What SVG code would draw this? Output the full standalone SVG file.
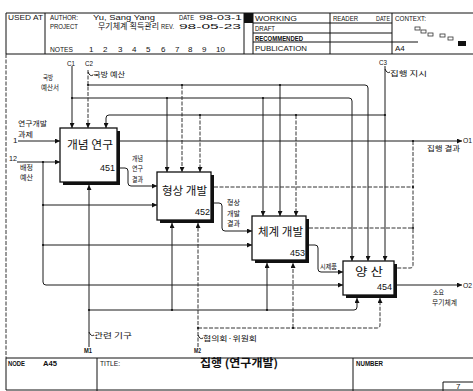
<svg xmlns="http://www.w3.org/2000/svg" width="473" height="391" viewBox="0 0 473 391">
<style>
.fr{stroke:#111;fill:none;stroke-width:1}
.ln{stroke:#1a1a1a;fill:none;stroke-width:1}
.dl{stroke:#333;fill:none;stroke-width:1;stroke-dasharray:4 1.5}
.t{font-family:"Liberation Sans","Noto Sans CJK KR",sans-serif;font-size:8px;fill:#111}
.k{font-family:"Noto Sans CJK KR","Liberation Sans",sans-serif;font-size:7px;fill:#111}
.bt{font-family:"Noto Sans CJK KR","Liberation Sans",sans-serif;font-size:11px;fill:#111}
.bn{font-family:"Liberation Sans",sans-serif;font-size:9px;fill:#111;text-anchor:end}
.box{fill:#fff;stroke:#111;stroke-width:1.3}
.sh{fill:#111}
.j{fill:#111}
</style>
<defs>
<marker id="ah" viewBox="0 0 6 6" refX="6" refY="3" markerWidth="5" markerHeight="5" orient="auto" markerUnits="userSpaceOnUse"><path d="M0,0 L6,3 L0,6 z" fill="#111"/></marker>
</defs>
<rect width="473" height="391" fill="#fff"/>

<g id="frame">
<path class="fr" stroke-width="1.5" d="M6,13 H473"/>
<path class="fr" d="M6,13 V54"/>
<path class="dl" d="M6,54 V358"/>
<path class="fr" d="M6,358 V390"/>
<path class="fr" d="M45,13 V54 M244,13 V54 M253,13 V54 M330,13 V54 M392,13 V54"/>
<path class="fr" d="M253,23 H392 M253,33 H392 M253,42 H392 M392,42 H418"/>
<path class="fr" stroke-width="1.5" d="M6,54 H473"/>
<rect x="244" y="13" width="9" height="10" fill="#111"/>
<path class="fr" stroke-width="1.3" d="M6,358 H473"/>
<path class="fr" d="M97,358 V391 M353,358 V391 M6,390 H473"/>
<path class="fr" d="M443,391 V382 H473"/>
<text class="t" x="8" y="20" textLength="35" lengthAdjust="spacingAndGlyphs">USED AT</text>
<text class="t" x="50" y="20" textLength="28" lengthAdjust="spacingAndGlyphs">AUTHOR:</text>
<text class="t" x="93" y="20" textLength="62" lengthAdjust="spacingAndGlyphs">Yu, Sang Yang</text>
<text class="t" x="179" y="20" textLength="15" lengthAdjust="spacingAndGlyphs">DATE</text>
<text class="t" x="199" y="20" textLength="43" lengthAdjust="spacingAndGlyphs">98-03-1</text>
<text class="t" x="50" y="29" textLength="28" lengthAdjust="spacingAndGlyphs">PROJECT</text>
<text class="t" x="98" y="29" textLength="61" lengthAdjust="spacingAndGlyphs">무기체계 획득관리</text>
<text class="t" x="161" y="29" textLength="13" lengthAdjust="spacingAndGlyphs">REV.</text>
<text class="t" x="179" y="29" textLength="62" lengthAdjust="spacingAndGlyphs">98-05-23</text>
<text class="t" x="50" y="52" textLength="23" lengthAdjust="spacingAndGlyphs">NOTES</text>
<text class="t" x="89" y="52">1</text><text class="t" x="103" y="52">2</text><text class="t" x="118" y="52">3</text><text class="t" x="132" y="52">4</text><text class="t" x="146" y="52">5</text><text class="t" x="161" y="52">6</text><text class="t" x="175" y="52">7</text><text class="t" x="188" y="52">8</text><text class="t" x="202" y="52">9</text><text class="t" x="216" y="52">10</text>
<text class="t" x="255" y="21" textLength="42" lengthAdjust="spacingAndGlyphs">WORKING</text>
<text class="t" x="255" y="31" textLength="20" lengthAdjust="spacingAndGlyphs">DRAFT</text>
<text class="t" x="255" y="41" textLength="48" lengthAdjust="spacingAndGlyphs" font-weight="bold">RECOMMENDED</text>
<text class="t" x="255" y="51" textLength="52" lengthAdjust="spacingAndGlyphs">PUBLICATION</text>
<text class="t" x="333" y="21" textLength="25" lengthAdjust="spacingAndGlyphs">READER</text>
<text class="t" x="376" y="21" textLength="14" lengthAdjust="spacingAndGlyphs">DATE</text>
<text class="t" x="395" y="21" textLength="31" lengthAdjust="spacingAndGlyphs">CONTEXT:</text>
<text class="t" x="395" y="51">A4</text>
<g fill="none" stroke="#333" stroke-width="0.8">
<rect x="415" y="27" width="5" height="3"/><rect x="421" y="30" width="5" height="3"/><rect x="428" y="33" width="5" height="3"/><rect x="440" y="34" width="5" height="3"/><rect x="448" y="37" width="5" height="3"/>
</g>
<rect x="458" y="41" width="8" height="5" fill="#111"/>
<text class="t" x="8" y="366" textLength="17" lengthAdjust="spacingAndGlyphs" font-weight="bold">NODE</text>
<text class="t" x="43" y="366" textLength="14" lengthAdjust="spacingAndGlyphs" font-weight="bold">A45</text>
<text class="t" x="100" y="366" textLength="20" lengthAdjust="spacingAndGlyphs">TITLE:</text>
<text class="bt" x="200" y="367" textLength="78" lengthAdjust="spacingAndGlyphs" font-weight="bold">집행 (연구개발)</text>
<text class="t" x="356" y="366" textLength="27" lengthAdjust="spacingAndGlyphs" font-weight="bold">NUMBER</text>
<text class="t" x="456" y="389" font-size="9">7</text>
</g>

<g id="connectors">
<path class="ln" marker-end="url(#ah)" d="M72,66 V128"/>
<path class="ln" marker-end="url(#ah)" d="M72,98 H349 Q352,98 352,101 V261"/>
<path class="ln" marker-end="url(#ah)" d="M167,98 V172"/>
<path class="ln" marker-end="url(#ah)" d="M263,98 V216"/>
<path class="dl" marker-end="url(#ah)" d="M88,70 V128"/>
<path class="ln" marker-end="url(#ah)" d="M88,85 H365 Q368,85 368,88 V261"/>
<path class="dl" marker-end="url(#ah)" d="M182,85 V172"/>
<path class="ln" marker-end="url(#ah)" d="M280,85 V216"/>
<path class="ln" marker-end="url(#ah)" d="M385,66 V261"/>
<path class="ln" marker-end="url(#ah)" d="M385,115 H109 Q106,115 106,118 V128"/>
<path class="dl" marker-end="url(#ah)" d="M200,115 V172"/>
<path class="dl" marker-end="url(#ah)" d="M296,115 V216"/>
<path class="ln" marker-end="url(#ah)" d="M18,141 H60"/>
<path class="ln" marker-end="url(#ah)" d="M17,162 H60"/>
<path class="ln" marker-end="url(#ah)" d="M43,162 V282 Q43,285 46,285 H343"/>
<path class="ln" marker-end="url(#ah)" d="M43,205 H157"/>
<path class="ln" marker-end="url(#ah)" d="M43,245 H252"/>
<path class="ln" marker-end="url(#ah)" d="M120,141 H462"/>
<path class="dl" d="M413,141 V265 Q413,268 410,268 H397"/>
<path class="dl" d="M214,187 H413"/>
<path class="dl" d="M309,228 H413"/>
<path class="ln" marker-end="url(#ah)" d="M120,168 H125 Q128,168 128,171 V183 Q128,186 131,186 H157"/>
<path class="ln" marker-end="url(#ah)" d="M214,203 H219 Q222,203 222,206 V228 Q222,231 225,231 H252"/>
<path class="ln" marker-end="url(#ah)" d="M309,245 H315 Q318,245 318,248 V269 Q318,272 321,272 H343"/>
<path class="ln" marker-end="url(#ah)" d="M397,285 H462"/>
<path class="ln" marker-end="url(#ah)" d="M89,347 V185"/>
<path class="ln" marker-end="url(#ah)" d="M89,310 H354 Q357,310 357,307 V298"/>
<path class="ln" marker-end="url(#ah)" d="M172,310 V223"/>
<path class="ln" marker-end="url(#ah)" d="M267,310 V263"/>
<path class="dl" marker-end="url(#ah)" d="M198,347 V223"/>
<path class="dl" marker-end="url(#ah)" d="M198,328 H377 Q380,328 380,325 V298"/>
<path class="dl" marker-end="url(#ah)" d="M293,328 V263"/>
<path class="ln" stroke-width="0.8" d="M88,72 Q90,77 93,75 M385,69 Q387,74 390,72 M89,332 Q91,337 94,335 M198,335 Q200,340 203,338"/>
<g class="j">
<circle cx="72" cy="98" r="1.1"/><circle cx="88" cy="85" r="1.1"/><circle cx="385" cy="115" r="1.1"/>
<circle cx="167" cy="98" r="1.1"/><circle cx="263" cy="98" r="1.1"/><circle cx="182" cy="85" r="1.1"/><circle cx="280" cy="85" r="1.1"/>
<circle cx="200" cy="115" r="1.1"/><circle cx="296" cy="115" r="1.1"/>
<circle cx="43" cy="162" r="1.1"/><circle cx="43" cy="205" r="1.1"/><circle cx="43" cy="245" r="1.1"/>
<circle cx="413" cy="141" r="1.1"/><circle cx="413" cy="187" r="1.1"/><circle cx="413" cy="228" r="1.1"/>
<circle cx="89" cy="310" r="1.1"/><circle cx="172" cy="310" r="1.1"/><circle cx="267" cy="310" r="1.1"/>
<circle cx="198" cy="328" r="1.1"/><circle cx="293" cy="328" r="1.1"/>
</g>
<text class="t" x="67" y="66" textLength="8" lengthAdjust="spacingAndGlyphs">C1</text>
<text class="t" x="85" y="66" textLength="8" lengthAdjust="spacingAndGlyphs">C2</text>
<text class="t" x="379" y="65" textLength="8" lengthAdjust="spacingAndGlyphs">C3</text>
<text class="k" x="43" y="80" textLength="10" lengthAdjust="spacingAndGlyphs">국방</text>
<text class="k" x="41" y="90" textLength="18" lengthAdjust="spacingAndGlyphs">예산서</text>
<text class="k" x="93" y="77" textLength="32" lengthAdjust="spacingAndGlyphs">국방 예산</text>
<text class="k" x="390" y="76" textLength="37" lengthAdjust="spacingAndGlyphs">집행 지시</text>
<text class="k" x="18" y="126" textLength="29" lengthAdjust="spacingAndGlyphs">연구개발</text>
<text class="k" x="18" y="137" textLength="15" lengthAdjust="spacingAndGlyphs">과제</text>
<text class="t" x="13" y="143">1</text>
<text class="t" x="9" y="161" textLength="8" lengthAdjust="spacingAndGlyphs">12</text>
<text class="k" x="20" y="170" textLength="13" lengthAdjust="spacingAndGlyphs">배정</text>
<text class="k" x="20" y="180" textLength="13" lengthAdjust="spacingAndGlyphs">예산</text>
<text class="k" x="132" y="161" textLength="11" lengthAdjust="spacingAndGlyphs">개념</text>
<text class="k" x="132" y="171" textLength="11" lengthAdjust="spacingAndGlyphs">연구</text>
<text class="k" x="132" y="182" textLength="11" lengthAdjust="spacingAndGlyphs">결과</text>
<text class="k" x="427" y="151" textLength="33" lengthAdjust="spacingAndGlyphs">집행 결과</text>
<text class="t" x="463" y="143" textLength="9" lengthAdjust="spacingAndGlyphs">O1</text>
<text class="k" x="227" y="205" textLength="13" lengthAdjust="spacingAndGlyphs">형상</text>
<text class="k" x="227" y="216" textLength="13" lengthAdjust="spacingAndGlyphs">개발</text>
<text class="k" x="227" y="226" textLength="13" lengthAdjust="spacingAndGlyphs">결과</text>
<text class="k" x="320" y="269" textLength="17" lengthAdjust="spacingAndGlyphs">시제품</text>
<text class="k" x="433" y="295" textLength="11" lengthAdjust="spacingAndGlyphs">소요</text>
<text class="k" x="432" y="305" textLength="25" lengthAdjust="spacingAndGlyphs">무기체계</text>
<text class="t" x="463" y="288" textLength="9" lengthAdjust="spacingAndGlyphs">O2</text>
<text class="k" x="94" y="338" textLength="38" lengthAdjust="spacingAndGlyphs">관련 기구</text>
<text class="t" x="84" y="353" textLength="8" lengthAdjust="spacingAndGlyphs" font-weight="bold">M1</text>
<text class="k" x="203" y="341" textLength="54" lengthAdjust="spacingAndGlyphs">협의회·위원회</text>
<text class="t" x="194" y="353" textLength="7" lengthAdjust="spacingAndGlyphs" font-weight="bold">M2</text>
</g>

<g id="box451">
<rect class="sh" x="63" y="131" width="57" height="54"/>
<rect class="box" x="60" y="128" width="57" height="54"/>
<text class="bt" x="67" y="149" textLength="46" lengthAdjust="spacingAndGlyphs">개념 연구</text>
<text class="bn" x="115" y="171">451</text>
</g>
<g id="box452">
<rect class="sh" x="160" y="175" width="54" height="48"/>
<rect class="box" x="157" y="172" width="54" height="48"/>
<text class="bt" x="162" y="195" textLength="45" lengthAdjust="spacingAndGlyphs">형상 개발</text>
<text class="bn" x="210" y="215">452</text>
</g>
<g id="box453">
<rect class="sh" x="255" y="219" width="54" height="44"/>
<rect class="box" x="252" y="216" width="54" height="44"/>
<text class="bt" x="258" y="236" textLength="45" lengthAdjust="spacingAndGlyphs">체계 개발</text>
<text class="bn" x="305" y="256">453</text>
</g>
<g id="box454">
<rect class="sh" x="346" y="264" width="51" height="34"/>
<rect class="box" x="343" y="261" width="51" height="34"/>
<text class="bt" x="355" y="276" textLength="28" lengthAdjust="spacingAndGlyphs">양 산</text>
<text class="bn" x="392" y="290">454</text>
</g>
</svg>
